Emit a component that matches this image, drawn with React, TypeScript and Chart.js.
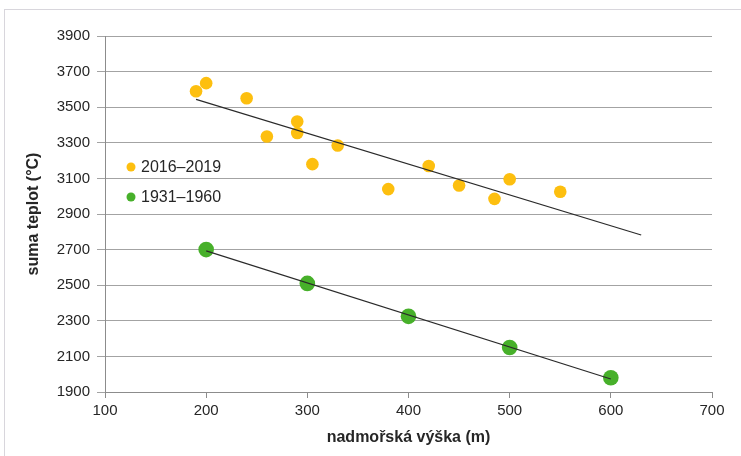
import React, { useEffect, useRef } from "react";
import { Chart, registerables } from "chart.js";

Chart.register(...registerables);

// 2016–2019 observations (altitude m, heat sum °C)
const recentAltitudes = [190, 200, 240, 260, 290, 290, 305, 330, 380, 420, 450, 485, 500, 550];
const recentSums = [3590, 3635, 3550, 3335, 3420, 3355, 3180, 3285, 3040, 3170, 3060, 2985, 3095, 3025];
// 1931–1960 observations
const oldAltitudes = [200, 300, 400, 500, 600];
const oldSums = [2700, 2510, 2325, 2150, 1980];
// linear trend lines (end points)
const recentTrendX = [190, 630];
const recentTrendY = [3544, 2782];
const oldTrendX = [200, 600];
const oldTrendY = [2693, 1973];

const recentLabel = "2016–2019";
const oldLabel = "1931–1960";
const xTitle = "nadmořská výška (m)";
const yTitle = "suma teplot (°C)";

const ORANGE = "#FDBF0F";
const GREEN = "#47B02A";
const FONT = "'Liberation Sans', Arial, Helvetica, sans-serif";

const toPoints = (xs: number[], ys: number[]) => xs.map((x, i) => ({ x, y: ys[i] }));

const decorPlugin = {
  id: "decor",
  beforeDraw(chart: any) {
    const { ctx } = chart;
    ctx.save();
    ctx.fillStyle = "#ffffff";
    ctx.fillRect(0, 0, chart.width, chart.height);
    ctx.strokeStyle = "#d8d6dc";
    ctx.lineWidth = 1;
    ctx.strokeRect(4.5, 9.5, chart.width + 10, chart.height + 10);
    ctx.restore();
  },
  afterDatasetsDraw(chart: any) {
    const { ctx, chartArea } = chart;
    const items = [
      { label: recentLabel, color: ORANGE, dy: 131 },
      { label: oldLabel, color: GREEN, dy: 161 },
    ];
    ctx.save();
    ctx.font = `16px ${FONT}`;
    ctx.textBaseline = "middle";
    ctx.textAlign = "left";
    items.forEach((it) => {
      const cx = chartArea.left + 26;
      const cy = chartArea.top + it.dy;
      ctx.beginPath();
      ctx.arc(cx, cy, 4.5, 0, Math.PI * 2);
      ctx.fillStyle = it.color;
      ctx.fill();
      ctx.fillStyle = "#262626";
      ctx.fillText(it.label, cx + 10, cy + 1);
    });
    ctx.restore();
  },
};

export default function App() {
  const canvasRef = useRef<HTMLCanvasElement | null>(null);

  useEffect(() => {
    if (!canvasRef.current) return;
    const chart = new Chart(canvasRef.current, {
      type: "scatter",
      data: {
        datasets: [
          {
            label: "trend " + recentLabel,
            data: toPoints(recentTrendX, recentTrendY),
            showLine: true,
            borderColor: "#2a2a2a",
            borderWidth: 1.2,
            pointRadius: 0,
            order: 0,
          },
          {
            label: "trend " + oldLabel,
            data: toPoints(oldTrendX, oldTrendY),
            showLine: true,
            borderColor: "#2a2a2a",
            borderWidth: 1.2,
            pointRadius: 0,
            order: 0,
          },
          {
            label: recentLabel,
            data: toPoints(recentAltitudes, recentSums),
            backgroundColor: ORANGE,
            borderColor: ORANGE,
            borderWidth: 0,
            pointRadius: 6.3,
            order: 1,
          },
          {
            label: oldLabel,
            data: toPoints(oldAltitudes, oldSums),
            backgroundColor: GREEN,
            borderColor: GREEN,
            borderWidth: 0,
            pointRadius: 7.8,
            order: 1,
          },
        ],
      },
      options: {
        animation: false,
        responsive: true,
        maintainAspectRatio: false,
        layout: { padding: { top: 36, right: 29, left: 0, bottom: 0 } },
        plugins: {
          legend: { display: false },
          tooltip: { enabled: false },
        },
        scales: {
          x: {
            type: "linear",
            min: 100,
            max: 700,
            afterFit: (scale: any) => {
              scale.height = 64;
            },
            ticks: {
              stepSize: 100,
              padding: 4,
              color: "#262626",
              font: { family: FONT, size: 15 },
              maxRotation: 0,
              callback: (v: any) => String(v),
            },
            grid: {
              drawOnChartArea: false,
              drawTicks: true,
              tickLength: 6,
              color: "#8c8c8c",
            },
            border: { display: true, color: "#8c8c8c" },
            title: {
              display: true,
              text: xTitle,
              color: "#262626",
              font: { family: FONT, size: 16, weight: "bold" },
              padding: { top: 0, bottom: 9 },
            },
          },
          y: {
            type: "linear",
            min: 1900,
            max: 3900,
            afterFit: (scale: any) => {
              scale.width = 105;
            },
            ticks: {
              stepSize: 200,
              padding: 7,
              color: "#262626",
              font: { family: FONT, size: 15 },
              callback: (v: any) => String(v),
            },
            grid: {
              drawTicks: true,
              tickLength: 8,
              color: "#a3a3a3",
              lineWidth: 1,
            },
            border: { display: true, color: "#8c8c8c" },
            title: {
              display: true,
              text: yTitle,
              color: "#262626",
              font: { family: FONT, size: 16, weight: "bold" },
              padding: { top: 24, bottom: 0 },
            },
          },
        },
      },
      plugins: [decorPlugin],
    });
    return () => chart.destroy();
  }, []);

  return (
    <div style={{ position: "fixed", left: 0, top: 0, width: 741, height: 456 }}>
      <canvas ref={canvasRef} />
    </div>
  );
}
